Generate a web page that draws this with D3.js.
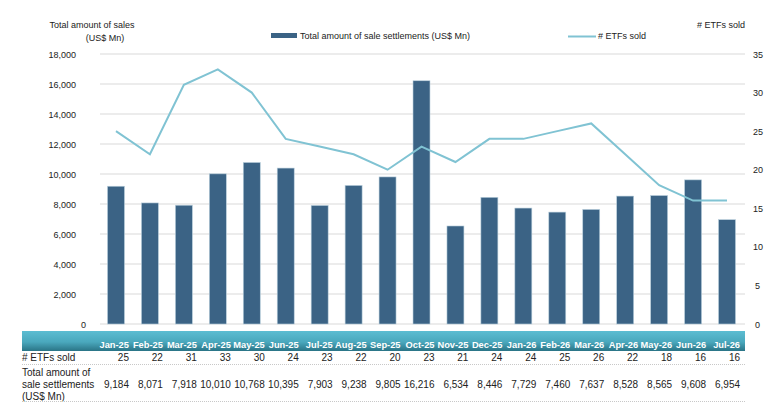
<!DOCTYPE html>
<html>
<head>
<meta charset="utf-8">
<script src="https://cdn.jsdelivr.net/npm/d3@7"></script>
<style>
  body { margin: 0; background: #fff; }
  svg text { font-family: "Liberation Sans", Arial, sans-serif; fill: #222; }
</style>
</head>
<body>
<svg id="chart" width="771" height="408"></svg>
<script>
var months = ["Jan-25", "Feb-25", "Mar-25", "Apr-25", "May-25", "Jun-25", "Jul-25", "Aug-25", "Sep-25", "Oct-25",
  "Nov-25", "Dec-25", "Jan-26", "Feb-26", "Mar-26", "Apr-26", "May-26", "Jun-26", "Jul-26"];
var etfsSold = [25, 22, 31, 33, 30, 24, 23, 22, 20, 23, 21, 24, 24, 25, 26, 22, 18, 16, 16];
var settlements = [9184, 8071, 7918, 10010, 10768, 10395, 7903, 9238, 9805, 16216,
  6534, 8446, 7729, 7460, 7637, 8528, 8565, 9608, 6954];
var leftTicks = [0, 2000, 4000, 6000, 8000, 10000, 12000, 14000, 16000, 18000];
var rightTicks = [0, 5, 10, 15, 20, 25, 30, 35];

var svg = d3.select("#chart");
var barColor = "#3b6385", lineColor = "#80c3d3";
var fmt = d3.format(",");

var x = d3.scaleBand().domain(months).range([99, 744]).paddingInner(0.5).paddingOuter(0.25);
var yL = d3.scaleLinear().domain([0, 18000]).range([324, 54]);
var yR = d3.scaleLinear().domain([0, 35]).range([324, 54]);

// gridlines
svg.append("g").selectAll("line").data(leftTicks).enter().append("line")
  .attr("x1", 100).attr("x2", 745)
  .attr("y1", function(d) { return yL(d); }).attr("y2", function(d) { return yL(d); })
  .attr("stroke", "#d9d9d9").attr("stroke-width", 1);

// left axis labels
svg.append("g").selectAll("text").data(leftTicks).enter().append("text")
  .attr("x", function(d) { return d === 0 ? 86 : 76; })
  .attr("y", function(d) { return yL(d) + 3.5; })
  .attr("text-anchor", "end").attr("font-size", 9)
  .text(function(d) { return fmt(d); });

// right axis labels
svg.append("g").selectAll("text").data(rightTicks).enter().append("text")
  .attr("x", function(d) { return d < 10 ? 755 : 753; })
  .attr("y", function(d) { return yR(d) + 3.5; })
  .attr("font-size", 9)
  .text(function(d) { return d; });

// bars
svg.append("g").selectAll("rect").data(settlements).enter().append("rect")
  .attr("x", function(d, i) { return x(months[i]); })
  .attr("width", x.bandwidth())
  .attr("y", function(d) { return yL(d); })
  .attr("height", function(d) { return yL(0) - yL(d); })
  .attr("fill", barColor)
  .attr("stroke", "#b9cfdc").attr("stroke-width", 0.6);

// line
var line = d3.line()
  .x(function(d, i) { return x(months[i]) + x.bandwidth() / 2; })
  .y(function(d) { return yR(d); });
svg.append("path").datum(etfsSold)
  .attr("d", line).attr("fill", "none")
  .attr("stroke", lineColor).attr("stroke-width", 2);

// axis titles
svg.append("text").attr("x", 92).attr("y", 28).attr("text-anchor", "middle").attr("font-size", 9)
  .text("Total amount of sales");
svg.append("text").attr("x", 105).attr("y", 41).attr("text-anchor", "middle").attr("font-size", 9)
  .text("(US$ Mn)");
svg.append("text").attr("x", 745).attr("y", 28).attr("text-anchor", "end").attr("font-size", 9)
  .text("# ETFs sold");

// legend
svg.append("rect").attr("x", 271).attr("y", 33).attr("width", 26).attr("height", 5).attr("fill", barColor);
svg.append("text").attr("x", 300).attr("y", 39).attr("font-size", 9)
  .text("Total amount of sale settlements (US$ Mn)");
svg.append("line").attr("x1", 568).attr("x2", 596).attr("y1", 36.5).attr("y2", 36.5)
  .attr("stroke", lineColor).attr("stroke-width", 2);
svg.append("text").attr("x", 598).attr("y", 39).attr("font-size", 9).text("# ETFs sold");

// table header band
var defs = svg.append("defs");
var grad = defs.append("linearGradient").attr("id", "hdr").attr("x1", 0).attr("x2", 0).attr("y1", 0).attr("y2", 1);
grad.append("stop").attr("offset", "0%").attr("stop-color", "#5cbdd2");
grad.append("stop").attr("offset", "55%").attr("stop-color", "#4aa8bd");
grad.append("stop").attr("offset", "100%").attr("stop-color", "#2a7486");
svg.append("rect").attr("x", 22).attr("y", 331).attr("width", 723).attr("height", 20).attr("fill", "url(#hdr)");

// table columns are right aligned a little past each bar centre
var colRight = function(m) { return x(m) + x.bandwidth() / 2 + 13; };

svg.append("g").selectAll("text").data(months).enter().append("text")
  .attr("x", function(d) { return colRight(d); })
  .attr("y", 347.5).attr("text-anchor", "end")
  .attr("font-size", 9.3).attr("font-weight", "bold")
  .style("fill", "#fff")
  .text(function(d) { return d; });

// row labels
svg.append("text").attr("x", 22).attr("y", 361).attr("font-size", 10).text("# ETFs sold");
svg.append("text").attr("x", 22).attr("y", 376).attr("font-size", 10).text("Total amount of");
svg.append("text").attr("x", 22).attr("y", 388).attr("font-size", 10).text("sale settlements");
svg.append("text").attr("x", 22).attr("y", 400).attr("font-size", 10).text("(US$ Mn)");

svg.append("g").selectAll("text").data(etfsSold).enter().append("text")
  .attr("x", function(d, i) { return colRight(months[i]); })
  .attr("y", 361).attr("text-anchor", "end").attr("font-size", 10)
  .text(function(d) { return d; });

svg.append("g").selectAll("text").data(settlements).enter().append("text")
  .attr("x", function(d, i) { return colRight(months[i]); })
  .attr("y", 388).attr("text-anchor", "end").attr("font-size", 10)
  .text(function(d) { return fmt(d); });

// dotted separators
[364.5, 401.5].forEach(function(yy) {
  svg.append("line").attr("x1", 22).attr("x2", 745).attr("y1", yy).attr("y2", yy)
    .attr("stroke", "#c8c8c8").attr("stroke-width", 1).attr("stroke-dasharray", "1,1");
});
</script>
</body>
</html>
